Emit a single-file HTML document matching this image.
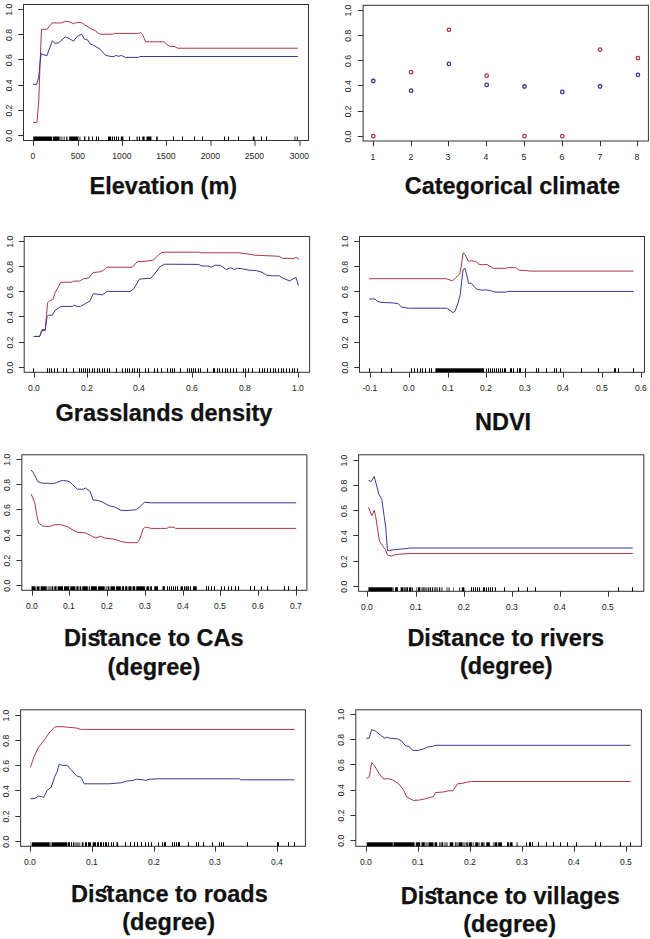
<!DOCTYPE html>
<html><head><meta charset="utf-8"><style>
html,body{margin:0;padding:0;background:#fff;}
svg{display:block;font-family:"Liberation Sans",sans-serif;}
</style></head><body>
<svg width="650" height="939" viewBox="0 0 650 939">
<rect width="650" height="939" fill="#fff"/>
<rect x="23.5" y="4.5" width="285.0" height="136.0" fill="none" stroke="#333" stroke-width="1"/>
<line x1="23.50" y1="135.50" x2="18.20" y2="135.50" stroke="#333" stroke-width="1"/>
<text x="0" y="0" transform="translate(11.80,135.80) rotate(-90)" font-size="8.6" text-anchor="middle" fill="#222">0.0</text>
<line x1="23.50" y1="110.50" x2="18.20" y2="110.50" stroke="#333" stroke-width="1"/>
<text x="0" y="0" transform="translate(11.80,110.60) rotate(-90)" font-size="8.6" text-anchor="middle" fill="#222">0.2</text>
<line x1="23.50" y1="85.50" x2="18.20" y2="85.50" stroke="#333" stroke-width="1"/>
<text x="0" y="0" transform="translate(11.80,85.40) rotate(-90)" font-size="8.6" text-anchor="middle" fill="#222">0.4</text>
<line x1="23.50" y1="59.50" x2="18.20" y2="59.50" stroke="#333" stroke-width="1"/>
<text x="0" y="0" transform="translate(11.80,60.20) rotate(-90)" font-size="8.6" text-anchor="middle" fill="#222">0.6</text>
<line x1="23.50" y1="34.50" x2="18.20" y2="34.50" stroke="#333" stroke-width="1"/>
<text x="0" y="0" transform="translate(11.80,35.00) rotate(-90)" font-size="8.6" text-anchor="middle" fill="#222">0.8</text>
<line x1="23.50" y1="9.50" x2="18.20" y2="9.50" stroke="#333" stroke-width="1"/>
<text x="0" y="0" transform="translate(11.80,9.80) rotate(-90)" font-size="8.6" text-anchor="middle" fill="#222">1.0</text>
<line x1="33.50" y1="140.50" x2="33.50" y2="145.80" stroke="#333" stroke-width="1"/>
<text x="32.90" y="159.10" font-size="8.6" text-anchor="middle" font-weight="normal" fill="#222">0</text>
<line x1="78.50" y1="140.50" x2="78.50" y2="145.80" stroke="#333" stroke-width="1"/>
<text x="77.90" y="159.10" font-size="8.6" text-anchor="middle" font-weight="normal" fill="#222">500</text>
<line x1="122.50" y1="140.50" x2="122.50" y2="145.80" stroke="#333" stroke-width="1"/>
<text x="121.90" y="159.10" font-size="8.6" text-anchor="middle" font-weight="normal" fill="#222">1000</text>
<line x1="166.50" y1="140.50" x2="166.50" y2="145.80" stroke="#333" stroke-width="1"/>
<text x="165.90" y="159.10" font-size="8.6" text-anchor="middle" font-weight="normal" fill="#222">1500</text>
<line x1="211.00" y1="140.50" x2="211.00" y2="145.80" stroke="#333" stroke-width="1"/>
<text x="210.40" y="159.10" font-size="8.6" text-anchor="middle" font-weight="normal" fill="#222">2000</text>
<line x1="255.00" y1="140.50" x2="255.00" y2="145.80" stroke="#333" stroke-width="1"/>
<text x="254.40" y="159.10" font-size="8.6" text-anchor="middle" font-weight="normal" fill="#222">2500</text>
<line x1="300.00" y1="140.50" x2="300.00" y2="145.80" stroke="#333" stroke-width="1"/>
<text x="299.40" y="159.10" font-size="8.6" text-anchor="middle" font-weight="normal" fill="#222">3000</text>
<rect x="33.20" y="136.50" width="19.00" height="4" fill="#000" fill-opacity="1"/>
<rect x="53.10" y="136.50" width="6.40" height="4" fill="#000" fill-opacity="1"/>
<rect x="59.50" y="136.50" width="3.30" height="4" fill="#000" fill-opacity="0.45"/>
<rect x="63.70" y="136.50" width="0.90" height="4" fill="#000" fill-opacity="1"/>
<rect x="66.20" y="136.50" width="1.20" height="4" fill="#000" fill-opacity="1"/>
<rect x="69.20" y="136.50" width="8.80" height="4" fill="#000" fill-opacity="1"/>
<rect x="78.00" y="136.50" width="2.80" height="4" fill="#000" fill-opacity="0.45"/>
<rect x="84.00" y="136.50" width="1.40" height="4" fill="#000" fill-opacity="1"/>
<rect x="88.20" y="136.50" width="1.30" height="4" fill="#000" fill-opacity="1"/>
<rect x="92" y="136.50" width="1" height="4" fill="#000"/>
<rect x="96" y="136.50" width="1" height="4" fill="#000"/>
<rect x="98" y="136.50" width="1" height="4" fill="#000"/>
<rect x="108.00" y="136.50" width="3.20" height="4" fill="#000" fill-opacity="1"/>
<rect x="112" y="136.50" width="1" height="4" fill="#000"/>
<rect x="114" y="136.50" width="1" height="4" fill="#000"/>
<rect x="116" y="136.50" width="1" height="4" fill="#000"/>
<rect x="118" y="136.50" width="1" height="4" fill="#000"/>
<rect x="120.80" y="136.50" width="2.60" height="4" fill="#000" fill-opacity="1"/>
<rect x="129" y="136.50" width="1" height="4" fill="#000"/>
<rect x="136.60" y="136.50" width="1.10" height="4" fill="#000" fill-opacity="1"/>
<rect x="139" y="136.50" width="1" height="4" fill="#000"/>
<rect x="142.30" y="136.50" width="2.30" height="4" fill="#000" fill-opacity="1"/>
<rect x="146.50" y="136.50" width="5.00" height="4" fill="#000" fill-opacity="1"/>
<rect x="156.20" y="136.50" width="1.50" height="4" fill="#000" fill-opacity="1"/>
<rect x="173" y="136.50" width="1" height="4" fill="#000"/>
<rect x="182" y="136.50" width="1" height="4" fill="#000"/>
<rect x="194" y="136.50" width="1" height="4" fill="#000"/>
<rect x="202" y="136.50" width="1" height="4" fill="#000"/>
<rect x="224" y="136.50" width="1" height="4" fill="#000"/>
<rect x="228" y="136.50" width="1" height="4" fill="#000"/>
<rect x="238" y="136.50" width="1" height="4" fill="#000"/>
<rect x="252.80" y="136.50" width="1.80" height="4" fill="#000" fill-opacity="1"/>
<rect x="261" y="136.50" width="1" height="4" fill="#000"/>
<rect x="266" y="136.50" width="1" height="4" fill="#000"/>
<rect x="294.60" y="136.50" width="0.80" height="4" fill="#000" fill-opacity="1"/>
<rect x="296.80" y="136.50" width="0.90" height="4" fill="#000" fill-opacity="1"/>
<polyline points="33.1,122.4 37.0,122.4 38.8,100.0 40.2,60.0 41.5,29.3 46.9,29.3 52.3,22.8 60.8,23.0 65.4,21.2 69.2,21.8 73.5,23.8 76.2,22.6 81.5,22.6 84.6,24.9 90.8,28.5 95.4,30.8 98.5,33.5 100.5,34.2 112.3,34.2 114.6,33.4 138.5,33.4 140.8,32.6 142.6,34.6 145.7,41.8 163.8,41.8 169.2,46.2 174.6,46.6 177.7,48.2 297.8,48.2" fill="none" stroke="#aa3840" stroke-width="1" stroke-linejoin="round"/>
<polyline points="33.1,84.3 36.6,84.3 38.8,76.9 40.0,63.0 41.2,53.5 43.0,54.6 46.9,55.7 52.3,40.8 55.1,43.4 58.5,42.8 65.4,36.9 69.2,38.5 73.5,41.2 76.9,36.6 81.5,34.2 84.6,39.2 87.7,40.0 90.0,43.8 93.8,45.4 100.0,49.2 105.4,55.1 109.2,56.2 113.8,56.6 116.2,55.4 118.5,56.4 121.5,55.4 125.4,57.4 138.5,57.4 140.0,56.5 297.8,56.5" fill="none" stroke="#383892" stroke-width="1" stroke-linejoin="round"/>
<text x="89.60" y="194.20" font-size="23.5" font-weight="bold" fill="#111" stroke="#111" stroke-width="0.25">Elevation (m)</text>
<rect x="363.1" y="5.3" width="285.29999999999995" height="135.7" fill="none" stroke="#333" stroke-width="1"/>
<line x1="363.10" y1="136.50" x2="357.80" y2="136.50" stroke="#333" stroke-width="1"/>
<text x="0" y="0" transform="translate(351.40,136.60) rotate(-90)" font-size="8.6" text-anchor="middle" fill="#222">0.0</text>
<line x1="363.10" y1="111.50" x2="357.80" y2="111.50" stroke="#333" stroke-width="1"/>
<text x="0" y="0" transform="translate(351.40,111.40) rotate(-90)" font-size="8.6" text-anchor="middle" fill="#222">0.2</text>
<line x1="363.10" y1="85.50" x2="357.80" y2="85.50" stroke="#333" stroke-width="1"/>
<text x="0" y="0" transform="translate(351.40,86.20) rotate(-90)" font-size="8.6" text-anchor="middle" fill="#222">0.4</text>
<line x1="363.10" y1="60.50" x2="357.80" y2="60.50" stroke="#333" stroke-width="1"/>
<text x="0" y="0" transform="translate(351.40,61.00) rotate(-90)" font-size="8.6" text-anchor="middle" fill="#222">0.6</text>
<line x1="363.10" y1="35.50" x2="357.80" y2="35.50" stroke="#333" stroke-width="1"/>
<text x="0" y="0" transform="translate(351.40,35.80) rotate(-90)" font-size="8.6" text-anchor="middle" fill="#222">0.8</text>
<line x1="363.10" y1="10.50" x2="357.80" y2="10.50" stroke="#333" stroke-width="1"/>
<text x="0" y="0" transform="translate(351.40,10.60) rotate(-90)" font-size="8.6" text-anchor="middle" fill="#222">1.0</text>
<line x1="373.50" y1="141.00" x2="373.50" y2="146.30" stroke="#333" stroke-width="1"/>
<text x="372.90" y="159.60" font-size="8.6" text-anchor="middle" font-weight="normal" fill="#222">1</text>
<line x1="411.50" y1="141.00" x2="411.50" y2="146.30" stroke="#333" stroke-width="1"/>
<text x="410.90" y="159.60" font-size="8.6" text-anchor="middle" font-weight="normal" fill="#222">2</text>
<line x1="448.50" y1="141.00" x2="448.50" y2="146.30" stroke="#333" stroke-width="1"/>
<text x="447.90" y="159.60" font-size="8.6" text-anchor="middle" font-weight="normal" fill="#222">3</text>
<line x1="486.50" y1="141.00" x2="486.50" y2="146.30" stroke="#333" stroke-width="1"/>
<text x="485.90" y="159.60" font-size="8.6" text-anchor="middle" font-weight="normal" fill="#222">4</text>
<line x1="524.50" y1="141.00" x2="524.50" y2="146.30" stroke="#333" stroke-width="1"/>
<text x="523.90" y="159.60" font-size="8.6" text-anchor="middle" font-weight="normal" fill="#222">5</text>
<line x1="562.50" y1="141.00" x2="562.50" y2="146.30" stroke="#333" stroke-width="1"/>
<text x="561.90" y="159.60" font-size="8.6" text-anchor="middle" font-weight="normal" fill="#222">6</text>
<line x1="600.50" y1="141.00" x2="600.50" y2="146.30" stroke="#333" stroke-width="1"/>
<text x="599.90" y="159.60" font-size="8.6" text-anchor="middle" font-weight="normal" fill="#222">7</text>
<line x1="637.50" y1="141.00" x2="637.50" y2="146.30" stroke="#333" stroke-width="1"/>
<text x="636.90" y="159.60" font-size="8.6" text-anchor="middle" font-weight="normal" fill="#222">8</text>
<circle cx="373.30" cy="81.00" r="1.75" fill="none" stroke="#383892" stroke-width="1.3"/>
<circle cx="373.30" cy="136.20" r="1.75" fill="none" stroke="#aa3840" stroke-width="1.3"/>
<circle cx="411.10" cy="72.20" r="1.75" fill="none" stroke="#aa3840" stroke-width="1.3"/>
<circle cx="411.10" cy="90.70" r="1.75" fill="none" stroke="#383892" stroke-width="1.3"/>
<circle cx="448.90" cy="29.80" r="1.75" fill="none" stroke="#aa3840" stroke-width="1.3"/>
<circle cx="448.90" cy="63.90" r="1.75" fill="none" stroke="#383892" stroke-width="1.3"/>
<circle cx="486.70" cy="75.70" r="1.75" fill="none" stroke="#aa3840" stroke-width="1.3"/>
<circle cx="486.70" cy="84.90" r="1.75" fill="none" stroke="#383892" stroke-width="1.3"/>
<circle cx="524.50" cy="86.50" r="1.75" fill="none" stroke="#383892" stroke-width="1.3"/>
<circle cx="524.50" cy="136.20" r="1.75" fill="none" stroke="#aa3840" stroke-width="1.3"/>
<circle cx="562.30" cy="91.90" r="1.75" fill="none" stroke="#383892" stroke-width="1.3"/>
<circle cx="562.30" cy="136.20" r="1.75" fill="none" stroke="#aa3840" stroke-width="1.3"/>
<circle cx="600.10" cy="49.60" r="1.75" fill="none" stroke="#aa3840" stroke-width="1.3"/>
<circle cx="600.10" cy="86.50" r="1.75" fill="none" stroke="#383892" stroke-width="1.3"/>
<circle cx="637.90" cy="58.20" r="1.75" fill="none" stroke="#aa3840" stroke-width="1.3"/>
<circle cx="637.90" cy="74.80" r="1.75" fill="none" stroke="#383892" stroke-width="1.3"/>
<text x="404.70" y="194.30" font-size="23.5" font-weight="bold" fill="#111" stroke="#111" stroke-width="0.25">Categorical climate</text>
<rect x="24.2" y="236.5" width="285.40000000000003" height="135.8" fill="none" stroke="#333" stroke-width="1"/>
<line x1="24.20" y1="367.50" x2="18.90" y2="367.50" stroke="#333" stroke-width="1"/>
<text x="0" y="0" transform="translate(12.50,367.60) rotate(-90)" font-size="8.6" text-anchor="middle" fill="#222">0.0</text>
<line x1="24.20" y1="342.50" x2="18.90" y2="342.50" stroke="#333" stroke-width="1"/>
<text x="0" y="0" transform="translate(12.50,342.42) rotate(-90)" font-size="8.6" text-anchor="middle" fill="#222">0.2</text>
<line x1="24.20" y1="316.50" x2="18.90" y2="316.50" stroke="#333" stroke-width="1"/>
<text x="0" y="0" transform="translate(12.50,317.24) rotate(-90)" font-size="8.6" text-anchor="middle" fill="#222">0.4</text>
<line x1="24.20" y1="291.50" x2="18.90" y2="291.50" stroke="#333" stroke-width="1"/>
<text x="0" y="0" transform="translate(12.50,292.06) rotate(-90)" font-size="8.6" text-anchor="middle" fill="#222">0.6</text>
<line x1="24.20" y1="266.50" x2="18.90" y2="266.50" stroke="#333" stroke-width="1"/>
<text x="0" y="0" transform="translate(12.50,266.88) rotate(-90)" font-size="8.6" text-anchor="middle" fill="#222">0.8</text>
<line x1="24.20" y1="241.50" x2="18.90" y2="241.50" stroke="#333" stroke-width="1"/>
<text x="0" y="0" transform="translate(12.50,241.70) rotate(-90)" font-size="8.6" text-anchor="middle" fill="#222">1.0</text>
<line x1="34.50" y1="372.30" x2="34.50" y2="377.60" stroke="#333" stroke-width="1"/>
<text x="33.90" y="390.90" font-size="8.6" text-anchor="middle" font-weight="normal" fill="#222">0.0</text>
<line x1="87.50" y1="372.30" x2="87.50" y2="377.60" stroke="#333" stroke-width="1"/>
<text x="86.90" y="390.90" font-size="8.6" text-anchor="middle" font-weight="normal" fill="#222">0.2</text>
<line x1="139.50" y1="372.30" x2="139.50" y2="377.60" stroke="#333" stroke-width="1"/>
<text x="138.90" y="390.90" font-size="8.6" text-anchor="middle" font-weight="normal" fill="#222">0.4</text>
<line x1="192.50" y1="372.30" x2="192.50" y2="377.60" stroke="#333" stroke-width="1"/>
<text x="191.90" y="390.90" font-size="8.6" text-anchor="middle" font-weight="normal" fill="#222">0.6</text>
<line x1="245.50" y1="372.30" x2="245.50" y2="377.60" stroke="#333" stroke-width="1"/>
<text x="244.90" y="390.90" font-size="8.6" text-anchor="middle" font-weight="normal" fill="#222">0.8</text>
<line x1="298.50" y1="372.30" x2="298.50" y2="377.60" stroke="#333" stroke-width="1"/>
<text x="297.90" y="390.90" font-size="8.6" text-anchor="middle" font-weight="normal" fill="#222">1.0</text>
<rect x="33" y="368.30" width="1" height="4" fill="#000"/>
<rect x="47" y="368.30" width="1" height="4" fill="#000"/>
<rect x="49" y="368.30" width="1" height="4" fill="#000"/>
<rect x="51" y="368.30" width="1" height="4" fill="#000"/>
<rect x="54" y="368.30" width="1" height="4" fill="#000"/>
<rect x="57" y="368.30" width="1" height="4" fill="#000"/>
<rect x="63" y="368.30" width="1" height="4" fill="#000"/>
<rect x="66" y="368.30" width="1" height="4" fill="#000"/>
<rect x="73" y="368.30" width="1" height="4" fill="#000"/>
<rect x="79" y="368.30" width="1" height="4" fill="#000"/>
<rect x="81" y="368.30" width="1" height="4" fill="#000"/>
<rect x="83" y="368.30" width="1" height="4" fill="#000"/>
<rect x="85" y="368.30" width="1" height="4" fill="#000"/>
<rect x="87" y="368.30" width="1" height="4" fill="#000"/>
<rect x="89" y="368.30" width="1" height="4" fill="#000"/>
<rect x="92" y="368.30" width="1" height="4" fill="#000"/>
<rect x="94" y="368.30" width="1" height="4" fill="#000"/>
<rect x="97" y="368.30" width="1" height="4" fill="#000"/>
<rect x="99" y="368.30" width="1" height="4" fill="#000"/>
<rect x="102" y="368.30" width="1" height="4" fill="#000"/>
<rect x="104" y="368.30" width="1" height="4" fill="#000"/>
<rect x="107" y="368.30" width="1" height="4" fill="#000"/>
<rect x="109" y="368.30" width="1" height="4" fill="#000"/>
<rect x="116" y="368.30" width="1" height="4" fill="#000"/>
<rect x="122" y="368.30" width="1" height="4" fill="#000"/>
<rect x="125" y="368.30" width="1" height="4" fill="#000"/>
<rect x="127" y="368.30" width="1" height="4" fill="#000"/>
<rect x="129" y="368.30" width="1" height="4" fill="#000"/>
<rect x="132" y="368.30" width="1" height="4" fill="#000"/>
<rect x="134" y="368.30" width="1" height="4" fill="#000"/>
<rect x="137" y="368.30" width="1" height="4" fill="#000"/>
<rect x="139" y="368.30" width="1" height="4" fill="#000"/>
<rect x="145" y="368.30" width="1" height="4" fill="#000"/>
<rect x="148" y="368.30" width="1" height="4" fill="#000"/>
<rect x="154" y="368.30" width="1" height="4" fill="#000"/>
<rect x="157" y="368.30" width="1" height="4" fill="#000"/>
<rect x="161" y="368.30" width="1" height="4" fill="#000"/>
<rect x="167" y="368.30" width="1" height="4" fill="#000"/>
<rect x="170" y="368.30" width="1" height="4" fill="#000"/>
<rect x="172" y="368.30" width="1" height="4" fill="#000"/>
<rect x="174" y="368.30" width="1" height="4" fill="#000"/>
<rect x="180" y="368.30" width="1" height="4" fill="#000"/>
<rect x="187" y="368.30" width="1" height="4" fill="#000"/>
<rect x="189" y="368.30" width="1" height="4" fill="#000"/>
<rect x="191" y="368.30" width="1" height="4" fill="#000"/>
<rect x="193" y="368.30" width="1" height="4" fill="#000"/>
<rect x="195" y="368.30" width="1" height="4" fill="#000"/>
<rect x="198" y="368.30" width="1" height="4" fill="#000"/>
<rect x="200" y="368.30" width="1" height="4" fill="#000"/>
<rect x="207" y="368.30" width="1" height="4" fill="#000"/>
<rect x="213" y="368.30" width="1" height="4" fill="#000"/>
<rect x="214" y="368.30" width="1" height="4" fill="#000"/>
<rect x="217" y="368.30" width="1" height="4" fill="#000"/>
<rect x="219" y="368.30" width="1" height="4" fill="#000"/>
<rect x="222" y="368.30" width="1" height="4" fill="#000"/>
<rect x="225" y="368.30" width="1" height="4" fill="#000"/>
<rect x="227" y="368.30" width="1" height="4" fill="#000"/>
<rect x="230" y="368.30" width="1" height="4" fill="#000"/>
<rect x="233" y="368.30" width="1" height="4" fill="#000"/>
<rect x="236" y="368.30" width="1" height="4" fill="#000"/>
<rect x="243" y="368.30" width="1" height="4" fill="#000"/>
<rect x="245" y="368.30" width="1" height="4" fill="#000"/>
<rect x="248" y="368.30" width="1" height="4" fill="#000"/>
<rect x="252" y="368.30" width="1" height="4" fill="#000"/>
<rect x="259" y="368.30" width="1" height="4" fill="#000"/>
<rect x="262" y="368.30" width="1" height="4" fill="#000"/>
<rect x="264" y="368.30" width="1" height="4" fill="#000"/>
<rect x="267" y="368.30" width="1" height="4" fill="#000"/>
<rect x="270" y="368.30" width="1" height="4" fill="#000"/>
<rect x="273" y="368.30" width="1" height="4" fill="#000"/>
<rect x="275" y="368.30" width="1" height="4" fill="#000"/>
<rect x="278" y="368.30" width="1" height="4" fill="#000"/>
<rect x="281" y="368.30" width="1" height="4" fill="#000"/>
<rect x="283" y="368.30" width="1" height="4" fill="#000"/>
<rect x="286" y="368.30" width="1" height="4" fill="#000"/>
<rect x="289" y="368.30" width="1" height="4" fill="#000"/>
<rect x="292" y="368.30" width="1" height="4" fill="#000"/>
<rect x="294" y="368.30" width="1" height="4" fill="#000"/>
<rect x="297" y="368.30" width="1" height="4" fill="#000"/>
<polyline points="33.7,336.4 39.7,336.4 42.0,329.5 45.2,329.5 46.6,314.5 47.5,302.9 49.8,300.6 52.8,299.5 55.2,292.5 60.9,282.2 71.3,282.2 73.6,281.2 79.4,281.0 83.5,278.7 88.6,278.0 93.2,272.5 100.2,271.8 103.6,270.2 106.6,267.2 132.5,267.2 137.1,261.8 144.0,261.4 153.2,260.2 156.7,256.8 161.3,252.6 165.0,252.2 199.6,252.2 201.9,252.8 238.8,252.8 248.1,254.0 255.0,255.2 264.2,255.6 279.2,256.3 282.7,258.4 294.2,258.4 296.1,257.5 298.9,259.1" fill="none" stroke="#aa3840" stroke-width="1" stroke-linejoin="round"/>
<polyline points="33.7,336.4 39.7,336.4 42.0,330.6 45.2,330.6 47.1,316.3 48.2,315.2 52.2,315.2 55.2,310.3 60.9,306.4 72.5,306.4 74.3,305.2 77.1,306.4 80.5,306.4 86.3,302.9 89.8,301.3 93.2,293.7 102.5,294.8 107.1,291.4 130.2,291.4 133.6,289.1 139.4,279.2 144.0,278.7 150.9,278.2 154.4,274.1 160.2,266.5 164.8,264.2 198.5,264.4 201.9,266.0 207.7,266.0 211.2,267.2 214.6,265.3 220.4,265.3 226.2,269.5 230.8,267.8 234.2,269.5 237.7,268.3 242.3,268.8 249.2,270.2 256.2,270.6 261.9,272.2 266.5,275.2 273.5,275.9 279.2,275.7 282.7,278.0 289.6,281.0 293.1,278.7 296.1,277.5 298.4,285.6" fill="none" stroke="#383892" stroke-width="1" stroke-linejoin="round"/>
<text x="55.60" y="420.60" font-size="23.5" font-weight="bold" fill="#111" stroke="#111" stroke-width="0.25">Grasslands density</text>
<rect x="359.5" y="236.5" width="285.0" height="135.8" fill="none" stroke="#333" stroke-width="1"/>
<line x1="359.50" y1="367.50" x2="354.20" y2="367.50" stroke="#333" stroke-width="1"/>
<text x="0" y="0" transform="translate(347.80,367.60) rotate(-90)" font-size="8.6" text-anchor="middle" fill="#222">0.0</text>
<line x1="359.50" y1="342.50" x2="354.20" y2="342.50" stroke="#333" stroke-width="1"/>
<text x="0" y="0" transform="translate(347.80,342.42) rotate(-90)" font-size="8.6" text-anchor="middle" fill="#222">0.2</text>
<line x1="359.50" y1="316.50" x2="354.20" y2="316.50" stroke="#333" stroke-width="1"/>
<text x="0" y="0" transform="translate(347.80,317.24) rotate(-90)" font-size="8.6" text-anchor="middle" fill="#222">0.4</text>
<line x1="359.50" y1="291.50" x2="354.20" y2="291.50" stroke="#333" stroke-width="1"/>
<text x="0" y="0" transform="translate(347.80,292.06) rotate(-90)" font-size="8.6" text-anchor="middle" fill="#222">0.6</text>
<line x1="359.50" y1="266.50" x2="354.20" y2="266.50" stroke="#333" stroke-width="1"/>
<text x="0" y="0" transform="translate(347.80,266.88) rotate(-90)" font-size="8.6" text-anchor="middle" fill="#222">0.8</text>
<line x1="359.50" y1="241.50" x2="354.20" y2="241.50" stroke="#333" stroke-width="1"/>
<text x="0" y="0" transform="translate(347.80,241.70) rotate(-90)" font-size="8.6" text-anchor="middle" fill="#222">1.0</text>
<line x1="370.50" y1="372.30" x2="370.50" y2="377.60" stroke="#333" stroke-width="1"/>
<text x="369.90" y="390.90" font-size="8.6" text-anchor="middle" font-weight="normal" fill="#222">-0.1</text>
<line x1="409.50" y1="372.30" x2="409.50" y2="377.60" stroke="#333" stroke-width="1"/>
<text x="408.90" y="390.90" font-size="8.6" text-anchor="middle" font-weight="normal" fill="#222">0.0</text>
<line x1="448.50" y1="372.30" x2="448.50" y2="377.60" stroke="#333" stroke-width="1"/>
<text x="447.90" y="390.90" font-size="8.6" text-anchor="middle" font-weight="normal" fill="#222">0.1</text>
<line x1="486.50" y1="372.30" x2="486.50" y2="377.60" stroke="#333" stroke-width="1"/>
<text x="485.90" y="390.90" font-size="8.6" text-anchor="middle" font-weight="normal" fill="#222">0.2</text>
<line x1="525.50" y1="372.30" x2="525.50" y2="377.60" stroke="#333" stroke-width="1"/>
<text x="524.90" y="390.90" font-size="8.6" text-anchor="middle" font-weight="normal" fill="#222">0.3</text>
<line x1="563.50" y1="372.30" x2="563.50" y2="377.60" stroke="#333" stroke-width="1"/>
<text x="562.90" y="390.90" font-size="8.6" text-anchor="middle" font-weight="normal" fill="#222">0.4</text>
<line x1="602.50" y1="372.30" x2="602.50" y2="377.60" stroke="#333" stroke-width="1"/>
<text x="601.90" y="390.90" font-size="8.6" text-anchor="middle" font-weight="normal" fill="#222">0.5</text>
<line x1="641.50" y1="372.30" x2="641.50" y2="377.60" stroke="#333" stroke-width="1"/>
<text x="640.90" y="390.90" font-size="8.6" text-anchor="middle" font-weight="normal" fill="#222">0.6</text>
<rect x="369" y="368.30" width="1" height="4" fill="#000"/>
<rect x="381" y="368.30" width="1" height="4" fill="#000"/>
<rect x="391" y="368.30" width="1" height="4" fill="#000"/>
<rect x="411" y="368.30" width="1" height="4" fill="#000"/>
<rect x="414" y="368.30" width="1" height="4" fill="#000"/>
<rect x="417" y="368.30" width="1" height="4" fill="#000"/>
<rect x="420" y="368.30" width="1" height="4" fill="#000"/>
<rect x="422" y="368.30" width="1" height="4" fill="#000"/>
<rect x="425" y="368.30" width="1" height="4" fill="#000"/>
<rect x="429" y="368.30" width="1" height="4" fill="#000"/>
<rect x="431" y="368.30" width="1" height="4" fill="#000"/>
<rect x="435.40" y="368.30" width="48.60" height="4" fill="#000" fill-opacity="1"/>
<rect x="486" y="368.30" width="1" height="4" fill="#000"/>
<rect x="488" y="368.30" width="1" height="4" fill="#000"/>
<rect x="490" y="368.30" width="1" height="4" fill="#000"/>
<rect x="492" y="368.30" width="1" height="4" fill="#000"/>
<rect x="494" y="368.30" width="1" height="4" fill="#000"/>
<rect x="496" y="368.30" width="1" height="4" fill="#000"/>
<rect x="498" y="368.30" width="1" height="4" fill="#000"/>
<rect x="500" y="368.30" width="1" height="4" fill="#000"/>
<rect x="502" y="368.30" width="1" height="4" fill="#000"/>
<rect x="504" y="368.30" width="1" height="4" fill="#000"/>
<rect x="505" y="368.30" width="1" height="4" fill="#000"/>
<rect x="510" y="368.30" width="1" height="4" fill="#000"/>
<rect x="511" y="368.30" width="1" height="4" fill="#000"/>
<rect x="513" y="368.30" width="1" height="4" fill="#000"/>
<rect x="517" y="368.30" width="1" height="4" fill="#000"/>
<rect x="519" y="368.30" width="1" height="4" fill="#000"/>
<rect x="520" y="368.30" width="1" height="4" fill="#000"/>
<rect x="525" y="368.30" width="1" height="4" fill="#000"/>
<rect x="536" y="368.30" width="1" height="4" fill="#000"/>
<rect x="538" y="368.30" width="1" height="4" fill="#000"/>
<rect x="546" y="368.30" width="1" height="4" fill="#000"/>
<rect x="554" y="368.30" width="1" height="4" fill="#000"/>
<rect x="556" y="368.30" width="1" height="4" fill="#000"/>
<rect x="560" y="368.30" width="1" height="4" fill="#000"/>
<rect x="581" y="368.30" width="1" height="4" fill="#000"/>
<rect x="598" y="368.30" width="1" height="4" fill="#000"/>
<rect x="614" y="368.30" width="1" height="4" fill="#000"/>
<rect x="615" y="368.30" width="1" height="4" fill="#000"/>
<rect x="618" y="368.30" width="1" height="4" fill="#000"/>
<rect x="633" y="368.30" width="1" height="4" fill="#000"/>
<polyline points="369.2,278.7 446.5,278.7 452.3,281.0 455.8,277.5 459.7,274.1 460.9,268.3 463.2,252.8 465.0,254.5 468.5,261.4 470.8,260.7 475.4,261.4 478.8,264.2 482.3,264.8 486.9,264.4 493.4,268.3 505.4,268.3 507.7,267.6 515.8,267.6 519.2,270.2 527.3,270.6 529.6,271.1 633.5,271.1" fill="none" stroke="#aa3840" stroke-width="1" stroke-linejoin="round"/>
<polyline points="369.2,299.0 375.0,299.0 378.0,301.8 383.1,302.5 392.3,302.9 398.1,303.6 401.5,307.1 408.5,308.2 446.5,308.2 450.0,310.3 452.8,312.8 455.1,311.0 458.1,302.9 460.4,293.7 461.5,282.2 463.2,269.5 465.0,268.3 466.6,274.1 468.5,283.3 471.2,283.3 476.5,289.1 481.2,290.2 485.8,289.8 491.5,290.9 495.0,292.1 506.5,292.1 507.7,291.4 633.5,291.4" fill="none" stroke="#383892" stroke-width="1" stroke-linejoin="round"/>
<text x="475.00" y="430.00" font-size="23.5" font-weight="bold" fill="#111" stroke="#111" stroke-width="0.25">NDVI</text>
<rect x="21.8" y="454.8" width="285.09999999999997" height="135.49999999999994" fill="none" stroke="#333" stroke-width="1"/>
<line x1="21.80" y1="585.50" x2="16.50" y2="585.50" stroke="#333" stroke-width="1"/>
<text x="0" y="0" transform="translate(10.10,585.80) rotate(-90)" font-size="8.6" text-anchor="middle" fill="#222">0.0</text>
<line x1="21.80" y1="560.50" x2="16.50" y2="560.50" stroke="#333" stroke-width="1"/>
<text x="0" y="0" transform="translate(10.10,560.58) rotate(-90)" font-size="8.6" text-anchor="middle" fill="#222">0.2</text>
<line x1="21.80" y1="535.50" x2="16.50" y2="535.50" stroke="#333" stroke-width="1"/>
<text x="0" y="0" transform="translate(10.10,535.36) rotate(-90)" font-size="8.6" text-anchor="middle" fill="#222">0.4</text>
<line x1="21.80" y1="509.50" x2="16.50" y2="509.50" stroke="#333" stroke-width="1"/>
<text x="0" y="0" transform="translate(10.10,510.14) rotate(-90)" font-size="8.6" text-anchor="middle" fill="#222">0.6</text>
<line x1="21.80" y1="484.50" x2="16.50" y2="484.50" stroke="#333" stroke-width="1"/>
<text x="0" y="0" transform="translate(10.10,484.92) rotate(-90)" font-size="8.6" text-anchor="middle" fill="#222">0.8</text>
<line x1="21.80" y1="459.50" x2="16.50" y2="459.50" stroke="#333" stroke-width="1"/>
<text x="0" y="0" transform="translate(10.10,459.70) rotate(-90)" font-size="8.6" text-anchor="middle" fill="#222">1.0</text>
<line x1="32.50" y1="590.30" x2="32.50" y2="595.60" stroke="#333" stroke-width="1"/>
<text x="31.90" y="608.90" font-size="8.6" text-anchor="middle" font-weight="normal" fill="#222">0.0</text>
<line x1="69.50" y1="590.30" x2="69.50" y2="595.60" stroke="#333" stroke-width="1"/>
<text x="68.90" y="608.90" font-size="8.6" text-anchor="middle" font-weight="normal" fill="#222">0.1</text>
<line x1="107.50" y1="590.30" x2="107.50" y2="595.60" stroke="#333" stroke-width="1"/>
<text x="106.90" y="608.90" font-size="8.6" text-anchor="middle" font-weight="normal" fill="#222">0.2</text>
<line x1="145.50" y1="590.30" x2="145.50" y2="595.60" stroke="#333" stroke-width="1"/>
<text x="144.90" y="608.90" font-size="8.6" text-anchor="middle" font-weight="normal" fill="#222">0.3</text>
<line x1="183.50" y1="590.30" x2="183.50" y2="595.60" stroke="#333" stroke-width="1"/>
<text x="182.90" y="608.90" font-size="8.6" text-anchor="middle" font-weight="normal" fill="#222">0.4</text>
<line x1="220.50" y1="590.30" x2="220.50" y2="595.60" stroke="#333" stroke-width="1"/>
<text x="219.90" y="608.90" font-size="8.6" text-anchor="middle" font-weight="normal" fill="#222">0.5</text>
<line x1="258.50" y1="590.30" x2="258.50" y2="595.60" stroke="#333" stroke-width="1"/>
<text x="257.90" y="608.90" font-size="8.6" text-anchor="middle" font-weight="normal" fill="#222">0.6</text>
<line x1="296.50" y1="590.30" x2="296.50" y2="595.60" stroke="#333" stroke-width="1"/>
<text x="295.90" y="608.90" font-size="8.6" text-anchor="middle" font-weight="normal" fill="#222">0.7</text>
<rect x="31.50" y="586.30" width="4.10" height="4" fill="#000" fill-opacity="1"/>
<rect x="36.60" y="586.30" width="3.00" height="4" fill="#000" fill-opacity="1"/>
<rect x="40.60" y="586.30" width="6.10" height="4" fill="#000" fill-opacity="1"/>
<rect x="47.70" y="586.30" width="0.80" height="4" fill="#000" fill-opacity="1"/>
<rect x="49.50" y="586.30" width="1.10" height="4" fill="#000" fill-opacity="1"/>
<rect x="51.60" y="586.30" width="1.70" height="4" fill="#000" fill-opacity="1"/>
<rect x="54.30" y="586.30" width="2.30" height="4" fill="#000" fill-opacity="1"/>
<rect x="57.60" y="586.30" width="5.40" height="4" fill="#000" fill-opacity="1"/>
<rect x="64.00" y="586.30" width="5.30" height="4" fill="#000" fill-opacity="1"/>
<rect x="70.30" y="586.30" width="5.10" height="4" fill="#000" fill-opacity="1"/>
<rect x="76.40" y="586.30" width="2.20" height="4" fill="#000" fill-opacity="1"/>
<rect x="79.60" y="586.30" width="1.70" height="4" fill="#000" fill-opacity="1"/>
<rect x="82.30" y="586.30" width="5.50" height="4" fill="#000" fill-opacity="1"/>
<rect x="88.80" y="586.30" width="1.10" height="4" fill="#000" fill-opacity="1"/>
<rect x="90.90" y="586.30" width="6.00" height="4" fill="#000" fill-opacity="1"/>
<rect x="97.90" y="586.30" width="6.80" height="4" fill="#000" fill-opacity="1"/>
<rect x="105.70" y="586.30" width="0.90" height="4" fill="#000" fill-opacity="1"/>
<rect x="107.60" y="586.30" width="1.80" height="4" fill="#000" fill-opacity="1"/>
<rect x="110.40" y="586.30" width="4.60" height="4" fill="#000" fill-opacity="1"/>
<rect x="116.00" y="586.30" width="4.90" height="4" fill="#000" fill-opacity="1"/>
<rect x="121.90" y="586.30" width="2.20" height="4" fill="#000" fill-opacity="1"/>
<rect x="125.10" y="586.30" width="2.30" height="4" fill="#000" fill-opacity="1"/>
<rect x="128.40" y="586.30" width="3.10" height="4" fill="#000" fill-opacity="1"/>
<rect x="132.50" y="586.30" width="2.70" height="4" fill="#000" fill-opacity="1"/>
<rect x="136.20" y="586.30" width="8.70" height="4" fill="#000" fill-opacity="1"/>
<rect x="145.90" y="586.30" width="0.50" height="4" fill="#000" fill-opacity="1"/>
<rect x="146.70" y="586.30" width="2.40" height="4" fill="#000" fill-opacity="1"/>
<rect x="150.10" y="586.30" width="1.80" height="4" fill="#000" fill-opacity="1"/>
<rect x="154.20" y="586.30" width="2.80" height="4" fill="#000" fill-opacity="1"/>
<rect x="157" y="586.30" width="1" height="4" fill="#000"/>
<rect x="162.50" y="586.30" width="2.40" height="4" fill="#000" fill-opacity="1"/>
<rect x="167" y="586.30" width="1" height="4" fill="#000"/>
<rect x="169" y="586.30" width="1" height="4" fill="#000"/>
<rect x="171" y="586.30" width="1" height="4" fill="#000"/>
<rect x="173" y="586.30" width="1" height="4" fill="#000"/>
<rect x="175" y="586.30" width="1" height="4" fill="#000"/>
<rect x="177" y="586.30" width="1" height="4" fill="#000"/>
<rect x="180.50" y="586.30" width="2.40" height="4" fill="#000" fill-opacity="1"/>
<rect x="184" y="586.30" width="1" height="4" fill="#000"/>
<rect x="185.60" y="586.30" width="1.90" height="4" fill="#000" fill-opacity="1"/>
<rect x="188" y="586.30" width="1" height="4" fill="#000"/>
<rect x="190" y="586.30" width="1" height="4" fill="#000"/>
<rect x="193.00" y="586.30" width="3.70" height="4" fill="#000" fill-opacity="1"/>
<rect x="206" y="586.30" width="1" height="4" fill="#000"/>
<rect x="208" y="586.30" width="1" height="4" fill="#000"/>
<rect x="211" y="586.30" width="1" height="4" fill="#000"/>
<rect x="214" y="586.30" width="1" height="4" fill="#000"/>
<rect x="221" y="586.30" width="1" height="4" fill="#000"/>
<rect x="224" y="586.30" width="1" height="4" fill="#000"/>
<rect x="228" y="586.30" width="1" height="4" fill="#000"/>
<rect x="231" y="586.30" width="1" height="4" fill="#000"/>
<rect x="235" y="586.30" width="1" height="4" fill="#000"/>
<rect x="238" y="586.30" width="1" height="4" fill="#000"/>
<rect x="250" y="586.30" width="1" height="4" fill="#000"/>
<rect x="254" y="586.30" width="1" height="4" fill="#000"/>
<rect x="261" y="586.30" width="1" height="4" fill="#000"/>
<rect x="267" y="586.30" width="1" height="4" fill="#000"/>
<rect x="284" y="586.30" width="1" height="4" fill="#000"/>
<rect x="288" y="586.30" width="1" height="4" fill="#000"/>
<rect x="296" y="586.30" width="1" height="4" fill="#000"/>
<polyline points="31.2,470.0 33.5,473.0 37.7,481.5 41.6,483.2 48.5,483.2 51.5,483.8 56.6,482.7 60.1,481.1 63.5,480.4 69.3,481.5 72.8,485.0 77.4,489.2 83.2,489.2 85.5,488.0 90.1,491.5 93.1,500.0 98.2,500.5 102.8,502.3 109.2,505.8 114.3,506.9 121.2,510.4 128.2,510.4 136.2,509.7 139.7,506.9 144.3,502.3 151.2,502.8 296.2,502.8" fill="none" stroke="#383892" stroke-width="1" stroke-linejoin="round"/>
<polyline points="31.2,494.2 34.7,502.3 36.3,512.7 38.6,523.1 42.8,526.1 49.7,526.5 54.3,524.7 61.2,524.7 68.2,527.0 72.8,530.0 77.4,532.3 85.5,532.8 91.2,535.8 95.8,538.1 100.5,536.2 105.1,538.1 114.3,539.2 121.2,541.5 128.2,542.7 137.4,542.7 139.7,539.2 143.2,528.8 145.5,527.0 151.2,528.4 160.5,528.4 166.9,528.4 168.5,527.2 174.0,527.2 175.5,528.4 296.2,528.4" fill="none" stroke="#aa3840" stroke-width="1" stroke-linejoin="round"/>
<text x="63.90" y="646.10" font-size="23.5" font-weight="bold" fill="#111" stroke="#111" stroke-width="0.25">Dis<tspan dx="-1.0">t</tspan><tspan dx="0.5">ance to CAs</tspan></text>
<path d="M96.75,636.10 C97.15,632.30 97.95,630.60 99.95,630.60 S102.15,631.10 102.55,632.90" fill="none" stroke="#111" stroke-width="2.0" stroke-linecap="round"/>
<text x="107.50" y="674.50" font-size="23.5" font-weight="bold" fill="#111" stroke="#111" stroke-width="0.25">(degree)</text>
<rect x="358.6" y="454.8" width="285.19999999999993" height="136.49999999999994" fill="none" stroke="#333" stroke-width="1"/>
<line x1="358.60" y1="586.50" x2="353.30" y2="586.50" stroke="#333" stroke-width="1"/>
<text x="0" y="0" transform="translate(346.90,586.70) rotate(-90)" font-size="8.6" text-anchor="middle" fill="#222">0.0</text>
<line x1="358.60" y1="561.50" x2="353.30" y2="561.50" stroke="#333" stroke-width="1"/>
<text x="0" y="0" transform="translate(346.90,561.48) rotate(-90)" font-size="8.6" text-anchor="middle" fill="#222">0.2</text>
<line x1="358.60" y1="535.50" x2="353.30" y2="535.50" stroke="#333" stroke-width="1"/>
<text x="0" y="0" transform="translate(346.90,536.26) rotate(-90)" font-size="8.6" text-anchor="middle" fill="#222">0.4</text>
<line x1="358.60" y1="510.50" x2="353.30" y2="510.50" stroke="#333" stroke-width="1"/>
<text x="0" y="0" transform="translate(346.90,511.04) rotate(-90)" font-size="8.6" text-anchor="middle" fill="#222">0.6</text>
<line x1="358.60" y1="485.50" x2="353.30" y2="485.50" stroke="#333" stroke-width="1"/>
<text x="0" y="0" transform="translate(346.90,485.82) rotate(-90)" font-size="8.6" text-anchor="middle" fill="#222">0.8</text>
<line x1="358.60" y1="460.50" x2="353.30" y2="460.50" stroke="#333" stroke-width="1"/>
<text x="0" y="0" transform="translate(346.90,460.60) rotate(-90)" font-size="8.6" text-anchor="middle" fill="#222">1.0</text>
<line x1="367.50" y1="591.30" x2="367.50" y2="596.60" stroke="#333" stroke-width="1"/>
<text x="366.90" y="609.90" font-size="8.6" text-anchor="middle" font-weight="normal" fill="#222">0.0</text>
<line x1="416.50" y1="591.30" x2="416.50" y2="596.60" stroke="#333" stroke-width="1"/>
<text x="415.90" y="609.90" font-size="8.6" text-anchor="middle" font-weight="normal" fill="#222">0.1</text>
<line x1="464.50" y1="591.30" x2="464.50" y2="596.60" stroke="#333" stroke-width="1"/>
<text x="463.90" y="609.90" font-size="8.6" text-anchor="middle" font-weight="normal" fill="#222">0.2</text>
<line x1="512.50" y1="591.30" x2="512.50" y2="596.60" stroke="#333" stroke-width="1"/>
<text x="511.90" y="609.90" font-size="8.6" text-anchor="middle" font-weight="normal" fill="#222">0.3</text>
<line x1="560.50" y1="591.30" x2="560.50" y2="596.60" stroke="#333" stroke-width="1"/>
<text x="559.90" y="609.90" font-size="8.6" text-anchor="middle" font-weight="normal" fill="#222">0.4</text>
<line x1="608.50" y1="591.30" x2="608.50" y2="596.60" stroke="#333" stroke-width="1"/>
<text x="607.90" y="609.90" font-size="8.6" text-anchor="middle" font-weight="normal" fill="#222">0.5</text>
<rect x="368.40" y="587.30" width="24.10" height="4" fill="#000" fill-opacity="1"/>
<rect x="392.50" y="587.30" width="1.50" height="4" fill="#000" fill-opacity="0.5"/>
<rect x="395.00" y="587.30" width="2.90" height="4" fill="#000" fill-opacity="1"/>
<rect x="400.60" y="587.30" width="2.90" height="4" fill="#000" fill-opacity="1"/>
<rect x="404.30" y="587.30" width="1.40" height="4" fill="#000" fill-opacity="1"/>
<rect x="406.30" y="587.30" width="1.70" height="4" fill="#000" fill-opacity="1"/>
<rect x="409.00" y="587.30" width="2.10" height="4" fill="#000" fill-opacity="1"/>
<rect x="411.60" y="587.30" width="1.20" height="4" fill="#000" fill-opacity="1"/>
<rect x="415.80" y="587.30" width="1.20" height="4" fill="#000" fill-opacity="0.5"/>
<rect x="417.80" y="587.30" width="2.60" height="4" fill="#000" fill-opacity="1"/>
<rect x="421.60" y="587.30" width="1.00" height="4" fill="#000" fill-opacity="1"/>
<rect x="423.30" y="587.30" width="1.30" height="4" fill="#000" fill-opacity="1"/>
<rect x="425.50" y="587.30" width="1.10" height="4" fill="#000" fill-opacity="1"/>
<rect x="427.70" y="587.30" width="1.10" height="4" fill="#000" fill-opacity="1"/>
<rect x="429.70" y="587.30" width="1.30" height="4" fill="#000" fill-opacity="1"/>
<rect x="431.90" y="587.30" width="1.20" height="4" fill="#000" fill-opacity="1"/>
<rect x="434.40" y="587.30" width="1.20" height="4" fill="#000" fill-opacity="1"/>
<rect x="436.50" y="587.30" width="1.10" height="4" fill="#000" fill-opacity="1"/>
<rect x="439.00" y="587.30" width="1.20" height="4" fill="#000" fill-opacity="1"/>
<rect x="441.50" y="587.30" width="0.90" height="4" fill="#000" fill-opacity="1"/>
<rect x="446.60" y="587.30" width="0.80" height="4" fill="#000" fill-opacity="1"/>
<rect x="448.60" y="587.30" width="0.90" height="4" fill="#000" fill-opacity="1"/>
<rect x="453.00" y="587.30" width="1.00" height="4" fill="#000" fill-opacity="0.5"/>
<rect x="459.30" y="587.30" width="0.80" height="4" fill="#000" fill-opacity="1"/>
<rect x="461.80" y="587.30" width="2.60" height="4" fill="#000" fill-opacity="1"/>
<rect x="471" y="587.30" width="1" height="4" fill="#000"/>
<rect x="473" y="587.30" width="1" height="4" fill="#000"/>
<rect x="475" y="587.30" width="1" height="4" fill="#000"/>
<rect x="477" y="587.30" width="1" height="4" fill="#000"/>
<rect x="479" y="587.30" width="1" height="4" fill="#000"/>
<rect x="483" y="587.30" width="1" height="4" fill="#000"/>
<rect x="484" y="587.30" width="1" height="4" fill="#000"/>
<rect x="486" y="587.30" width="1" height="4" fill="#000"/>
<rect x="488" y="587.30" width="1" height="4" fill="#000"/>
<rect x="490" y="587.30" width="1" height="4" fill="#000"/>
<rect x="492" y="587.30" width="1" height="4" fill="#000"/>
<rect x="495" y="587.30" width="1" height="4" fill="#000"/>
<rect x="504" y="587.30" width="1" height="4" fill="#000"/>
<rect x="518" y="587.30" width="1" height="4" fill="#000"/>
<rect x="527" y="587.30" width="1" height="4" fill="#000"/>
<rect x="535" y="587.30" width="1" height="4" fill="#000"/>
<rect x="618" y="587.30" width="1" height="4" fill="#000"/>
<rect x="632" y="587.30" width="1" height="4" fill="#000"/>
<polyline points="368.5,480.4 371.1,481.5 374.2,476.5 376.5,485.0 378.8,494.2 381.8,499.6 384.2,516.5 385.7,527.3 387.5,550.4 389.5,550.7 394.2,549.6 404.2,548.8 410.3,548.0 632.8,548.0" fill="none" stroke="#383892" stroke-width="1" stroke-linejoin="round"/>
<polyline points="368.5,507.3 371.8,515.8 374.2,510.4 375.7,516.5 378.0,531.9 379.5,541.2 382.6,545.8 385.4,549.6 387.5,555.0 391.1,556.2 394.9,554.7 399.5,554.2 410.3,553.5 632.8,553.5" fill="none" stroke="#aa3840" stroke-width="1" stroke-linejoin="round"/>
<text x="407.40" y="646.20" font-size="23.5" font-weight="bold" fill="#111" stroke="#111" stroke-width="0.25">Dis<tspan dx="-1.0">t</tspan><tspan dx="0.5">ance to rivers</tspan></text>
<path d="M440.25,636.20 C440.65,632.40 441.45,630.70 443.45,630.70 S445.65,631.20 446.05,633.00" fill="none" stroke="#111" stroke-width="2.0" stroke-linecap="round"/>
<text x="459.90" y="673.70" font-size="23.5" font-weight="bold" fill="#111" stroke="#111" stroke-width="0.25">(degree)</text>
<rect x="20.6" y="709.8" width="284.79999999999995" height="136.5" fill="none" stroke="#333" stroke-width="1"/>
<line x1="20.60" y1="841.50" x2="15.30" y2="841.50" stroke="#333" stroke-width="1"/>
<text x="0" y="0" transform="translate(8.90,841.70) rotate(-90)" font-size="8.6" text-anchor="middle" fill="#222">0.0</text>
<line x1="20.60" y1="816.50" x2="15.30" y2="816.50" stroke="#333" stroke-width="1"/>
<text x="0" y="0" transform="translate(8.90,816.48) rotate(-90)" font-size="8.6" text-anchor="middle" fill="#222">0.2</text>
<line x1="20.60" y1="790.50" x2="15.30" y2="790.50" stroke="#333" stroke-width="1"/>
<text x="0" y="0" transform="translate(8.90,791.26) rotate(-90)" font-size="8.6" text-anchor="middle" fill="#222">0.4</text>
<line x1="20.60" y1="765.50" x2="15.30" y2="765.50" stroke="#333" stroke-width="1"/>
<text x="0" y="0" transform="translate(8.90,766.04) rotate(-90)" font-size="8.6" text-anchor="middle" fill="#222">0.6</text>
<line x1="20.60" y1="740.50" x2="15.30" y2="740.50" stroke="#333" stroke-width="1"/>
<text x="0" y="0" transform="translate(8.90,740.82) rotate(-90)" font-size="8.6" text-anchor="middle" fill="#222">0.8</text>
<line x1="20.60" y1="715.50" x2="15.30" y2="715.50" stroke="#333" stroke-width="1"/>
<text x="0" y="0" transform="translate(8.90,715.60) rotate(-90)" font-size="8.6" text-anchor="middle" fill="#222">1.0</text>
<line x1="30.50" y1="846.30" x2="30.50" y2="851.60" stroke="#333" stroke-width="1"/>
<text x="29.90" y="864.90" font-size="8.6" text-anchor="middle" font-weight="normal" fill="#222">0.0</text>
<line x1="92.50" y1="846.30" x2="92.50" y2="851.60" stroke="#333" stroke-width="1"/>
<text x="91.90" y="864.90" font-size="8.6" text-anchor="middle" font-weight="normal" fill="#222">0.1</text>
<line x1="154.50" y1="846.30" x2="154.50" y2="851.60" stroke="#333" stroke-width="1"/>
<text x="153.90" y="864.90" font-size="8.6" text-anchor="middle" font-weight="normal" fill="#222">0.2</text>
<line x1="215.50" y1="846.30" x2="215.50" y2="851.60" stroke="#333" stroke-width="1"/>
<text x="214.90" y="864.90" font-size="8.6" text-anchor="middle" font-weight="normal" fill="#222">0.3</text>
<line x1="277.50" y1="846.30" x2="277.50" y2="851.60" stroke="#333" stroke-width="1"/>
<text x="276.90" y="864.90" font-size="8.6" text-anchor="middle" font-weight="normal" fill="#222">0.4</text>
<rect x="30.40" y="842.30" width="1.00" height="4" fill="#000" fill-opacity="0.5"/>
<rect x="31.90" y="842.30" width="17.70" height="4" fill="#000" fill-opacity="1"/>
<rect x="49.60" y="842.30" width="1.40" height="4" fill="#000" fill-opacity="0.5"/>
<rect x="51.50" y="842.30" width="15.80" height="4" fill="#000" fill-opacity="1"/>
<rect x="68" y="842.30" width="1" height="4" fill="#000"/>
<rect x="69" y="842.30" width="1" height="4" fill="#000"/>
<rect x="71" y="842.30" width="1" height="4" fill="#000"/>
<rect x="73" y="842.30" width="1" height="4" fill="#000"/>
<rect x="74.20" y="842.30" width="6.20" height="4" fill="#000" fill-opacity="0.5"/>
<rect x="81.90" y="842.30" width="1.60" height="4" fill="#000" fill-opacity="1"/>
<rect x="85" y="842.30" width="1" height="4" fill="#000"/>
<rect x="86" y="842.30" width="1" height="4" fill="#000"/>
<rect x="88" y="842.30" width="1" height="4" fill="#000"/>
<rect x="89" y="842.30" width="1" height="4" fill="#000"/>
<rect x="90" y="842.30" width="1" height="4" fill="#000"/>
<rect x="92.70" y="842.30" width="2.30" height="4" fill="#000" fill-opacity="1"/>
<rect x="95" y="842.30" width="1" height="4" fill="#000"/>
<rect x="97" y="842.30" width="1" height="4" fill="#000"/>
<rect x="98" y="842.30" width="1" height="4" fill="#000"/>
<rect x="100" y="842.30" width="1" height="4" fill="#000"/>
<rect x="101" y="842.30" width="1" height="4" fill="#000"/>
<rect x="103" y="842.30" width="1" height="4" fill="#000"/>
<rect x="105" y="842.30" width="1" height="4" fill="#000"/>
<rect x="106" y="842.30" width="1" height="4" fill="#000"/>
<rect x="108" y="842.30" width="1" height="4" fill="#000"/>
<rect x="111" y="842.30" width="1" height="4" fill="#000"/>
<rect x="113" y="842.30" width="1" height="4" fill="#000"/>
<rect x="116.50" y="842.30" width="1.60" height="4" fill="#000" fill-opacity="1"/>
<rect x="125" y="842.30" width="1" height="4" fill="#000"/>
<rect x="130" y="842.30" width="1" height="4" fill="#000"/>
<rect x="134" y="842.30" width="1" height="4" fill="#000"/>
<rect x="137" y="842.30" width="1" height="4" fill="#000"/>
<rect x="141" y="842.30" width="1" height="4" fill="#000"/>
<rect x="145" y="842.30" width="1" height="4" fill="#000"/>
<rect x="148" y="842.30" width="1" height="4" fill="#000"/>
<rect x="151" y="842.30" width="1" height="4" fill="#000"/>
<rect x="158" y="842.30" width="1" height="4" fill="#000"/>
<rect x="162" y="842.30" width="1" height="4" fill="#000"/>
<rect x="164" y="842.30" width="1" height="4" fill="#000"/>
<rect x="165" y="842.30" width="1" height="4" fill="#000"/>
<rect x="172" y="842.30" width="1" height="4" fill="#000"/>
<rect x="174" y="842.30" width="1" height="4" fill="#000"/>
<rect x="176" y="842.30" width="1" height="4" fill="#000"/>
<rect x="178" y="842.30" width="1" height="4" fill="#000"/>
<rect x="179" y="842.30" width="1" height="4" fill="#000"/>
<rect x="188" y="842.30" width="1" height="4" fill="#000"/>
<rect x="196" y="842.30" width="1" height="4" fill="#000"/>
<rect x="198" y="842.30" width="1" height="4" fill="#000"/>
<rect x="203" y="842.30" width="1" height="4" fill="#000"/>
<rect x="212" y="842.30" width="1" height="4" fill="#000"/>
<rect x="219" y="842.30" width="1" height="4" fill="#000"/>
<rect x="221" y="842.30" width="1" height="4" fill="#000"/>
<rect x="223" y="842.30" width="1" height="4" fill="#000"/>
<rect x="247" y="842.30" width="1" height="4" fill="#000"/>
<rect x="277" y="842.30" width="1" height="4" fill="#000"/>
<rect x="278" y="842.30" width="1" height="4" fill="#000"/>
<rect x="288" y="842.30" width="1" height="4" fill="#000"/>
<rect x="294" y="842.30" width="1" height="4" fill="#000"/>
<polyline points="30.4,767.2 33.8,757.3 38.0,748.1 44.2,740.0 50.0,731.9 55.1,726.8 61.5,726.6 68.5,727.3 76.5,728.0 80.5,729.4 294.5,729.4" fill="none" stroke="#aa3840" stroke-width="1" stroke-linejoin="round"/>
<polyline points="30.4,798.9 35.0,798.4 38.5,796.1 41.9,796.5 43.5,797.7 47.2,790.3 51.2,787.3 54.6,776.9 56.9,772.3 59.2,764.2 62.7,765.4 67.3,765.4 70.8,769.5 76.5,775.8 81.2,777.4 84.2,783.8 110.0,783.8 121.5,782.7 126.2,781.1 133.1,780.4 136.5,779.2 142.3,779.7 145.8,780.4 149.2,779.2 158.5,778.8 239.6,778.8 240.5,779.8 294.5,779.8" fill="none" stroke="#383892" stroke-width="1" stroke-linejoin="round"/>
<text x="71.00" y="901.80" font-size="23.5" font-weight="bold" fill="#111" stroke="#111" stroke-width="0.25">Dis<tspan dx="-1.0">t</tspan><tspan dx="0.5">ance to roads</tspan></text>
<path d="M103.85,891.80 C104.25,888.00 105.05,886.30 107.05,886.30 S109.25,886.80 109.65,888.60" fill="none" stroke="#111" stroke-width="2.0" stroke-linecap="round"/>
<text x="122.30" y="929.60" font-size="23.5" font-weight="bold" fill="#111" stroke="#111" stroke-width="0.25">(degree)</text>
<rect x="355.8" y="709.8" width="285.59999999999997" height="136.5" fill="none" stroke="#333" stroke-width="1"/>
<line x1="355.80" y1="840.50" x2="350.50" y2="840.50" stroke="#333" stroke-width="1"/>
<text x="0" y="0" transform="translate(344.10,840.80) rotate(-90)" font-size="8.6" text-anchor="middle" fill="#222">0.0</text>
<line x1="355.80" y1="815.50" x2="350.50" y2="815.50" stroke="#333" stroke-width="1"/>
<text x="0" y="0" transform="translate(344.10,815.56) rotate(-90)" font-size="8.6" text-anchor="middle" fill="#222">0.2</text>
<line x1="355.80" y1="790.50" x2="350.50" y2="790.50" stroke="#333" stroke-width="1"/>
<text x="0" y="0" transform="translate(344.10,790.32) rotate(-90)" font-size="8.6" text-anchor="middle" fill="#222">0.4</text>
<line x1="355.80" y1="764.50" x2="350.50" y2="764.50" stroke="#333" stroke-width="1"/>
<text x="0" y="0" transform="translate(344.10,765.08) rotate(-90)" font-size="8.6" text-anchor="middle" fill="#222">0.6</text>
<line x1="355.80" y1="739.50" x2="350.50" y2="739.50" stroke="#333" stroke-width="1"/>
<text x="0" y="0" transform="translate(344.10,739.84) rotate(-90)" font-size="8.6" text-anchor="middle" fill="#222">0.8</text>
<line x1="355.80" y1="714.50" x2="350.50" y2="714.50" stroke="#333" stroke-width="1"/>
<text x="0" y="0" transform="translate(344.10,714.60) rotate(-90)" font-size="8.6" text-anchor="middle" fill="#222">1.0</text>
<line x1="366.50" y1="846.30" x2="366.50" y2="851.60" stroke="#333" stroke-width="1"/>
<text x="365.90" y="864.90" font-size="8.6" text-anchor="middle" font-weight="normal" fill="#222">0.0</text>
<line x1="418.50" y1="846.30" x2="418.50" y2="851.60" stroke="#333" stroke-width="1"/>
<text x="417.90" y="864.90" font-size="8.6" text-anchor="middle" font-weight="normal" fill="#222">0.1</text>
<line x1="470.50" y1="846.30" x2="470.50" y2="851.60" stroke="#333" stroke-width="1"/>
<text x="469.90" y="864.90" font-size="8.6" text-anchor="middle" font-weight="normal" fill="#222">0.2</text>
<line x1="522.50" y1="846.30" x2="522.50" y2="851.60" stroke="#333" stroke-width="1"/>
<text x="521.90" y="864.90" font-size="8.6" text-anchor="middle" font-weight="normal" fill="#222">0.3</text>
<line x1="574.50" y1="846.30" x2="574.50" y2="851.60" stroke="#333" stroke-width="1"/>
<text x="573.90" y="864.90" font-size="8.6" text-anchor="middle" font-weight="normal" fill="#222">0.4</text>
<line x1="626.50" y1="846.30" x2="626.50" y2="851.60" stroke="#333" stroke-width="1"/>
<text x="625.90" y="864.90" font-size="8.6" text-anchor="middle" font-weight="normal" fill="#222">0.5</text>
<rect x="366.70" y="842.30" width="26.10" height="4" fill="#000" fill-opacity="1"/>
<rect x="392.80" y="842.30" width="1.00" height="4" fill="#000" fill-opacity="0.5"/>
<rect x="393.80" y="842.30" width="20.40" height="4" fill="#000" fill-opacity="1"/>
<rect x="414.20" y="842.30" width="1.30" height="4" fill="#000" fill-opacity="0.5"/>
<rect x="416.00" y="842.30" width="4.20" height="4" fill="#000" fill-opacity="1"/>
<rect x="421.50" y="842.30" width="3.30" height="4" fill="#000" fill-opacity="1"/>
<rect x="425.20" y="842.30" width="2.80" height="4" fill="#000" fill-opacity="0.5"/>
<rect x="428.50" y="842.30" width="5.00" height="4" fill="#000" fill-opacity="1"/>
<rect x="434.50" y="842.30" width="2.70" height="4" fill="#000" fill-opacity="1"/>
<rect x="439.30" y="842.30" width="1.20" height="4" fill="#000" fill-opacity="1"/>
<rect x="441.40" y="842.30" width="1.80" height="4" fill="#000" fill-opacity="1"/>
<rect x="444.20" y="842.30" width="3.70" height="4" fill="#000" fill-opacity="0.5"/>
<rect x="449.70" y="842.30" width="3.70" height="4" fill="#000" fill-opacity="1"/>
<rect x="455.20" y="842.30" width="1.00" height="4" fill="#000" fill-opacity="1"/>
<rect x="456.20" y="842.30" width="2.80" height="4" fill="#000" fill-opacity="0.5"/>
<rect x="459.00" y="842.30" width="3.60" height="4" fill="#000" fill-opacity="1"/>
<rect x="463.00" y="842.30" width="2.80" height="4" fill="#000" fill-opacity="0.5"/>
<rect x="466.30" y="842.30" width="1.50" height="4" fill="#000" fill-opacity="1"/>
<rect x="468.70" y="842.30" width="3.20" height="4" fill="#000" fill-opacity="1"/>
<rect x="472.40" y="842.30" width="1.80" height="4" fill="#000" fill-opacity="0.5"/>
<rect x="475.20" y="842.30" width="2.70" height="4" fill="#000" fill-opacity="1"/>
<rect x="477.90" y="842.30" width="2.30" height="4" fill="#000" fill-opacity="0.5"/>
<rect x="481.20" y="842.30" width="2.30" height="4" fill="#000" fill-opacity="1"/>
<rect x="483.50" y="842.30" width="1.40" height="4" fill="#000" fill-opacity="0.5"/>
<rect x="486.20" y="842.30" width="3.70" height="4" fill="#000" fill-opacity="1"/>
<rect x="492.70" y="842.30" width="1.40" height="4" fill="#000" fill-opacity="0.5"/>
<rect x="494.50" y="842.30" width="2.80" height="4" fill="#000" fill-opacity="1"/>
<rect x="498.20" y="842.30" width="3.70" height="4" fill="#000" fill-opacity="1"/>
<rect x="507.00" y="842.30" width="1.90" height="4" fill="#000" fill-opacity="1"/>
<rect x="509.80" y="842.30" width="2.80" height="4" fill="#000" fill-opacity="1"/>
<rect x="516.20" y="842.30" width="1.90" height="4" fill="#000" fill-opacity="0.5"/>
<rect x="526" y="842.30" width="1" height="4" fill="#000"/>
<rect x="529" y="842.30" width="1" height="4" fill="#000"/>
<rect x="530" y="842.30" width="1" height="4" fill="#000"/>
<rect x="532" y="842.30" width="1" height="4" fill="#000"/>
<rect x="538" y="842.30" width="1" height="4" fill="#000"/>
<rect x="546" y="842.30" width="1" height="4" fill="#000"/>
<rect x="553" y="842.30" width="1" height="4" fill="#000"/>
<rect x="560" y="842.30" width="1" height="4" fill="#000"/>
<rect x="567" y="842.30" width="1" height="4" fill="#000"/>
<rect x="576" y="842.30" width="1" height="4" fill="#000"/>
<rect x="595" y="842.30" width="1" height="4" fill="#000"/>
<rect x="600" y="842.30" width="1" height="4" fill="#000"/>
<rect x="620" y="842.30" width="1" height="4" fill="#000"/>
<rect x="630" y="842.30" width="1" height="4" fill="#000"/>
<polyline points="366.4,738.2 369.2,738.2 371.7,729.6 375.6,731.2 380.2,734.9 384.8,738.2 387.2,737.2 390.2,738.4 397.5,738.8 401.0,740.5 405.6,745.8 409.1,746.5 412.5,750.4 418.3,750.4 422.9,749.2 428.0,746.9 432.2,746.5 435.6,745.3 630.7,745.3" fill="none" stroke="#383892" stroke-width="1" stroke-linejoin="round"/>
<polyline points="366.4,778.5 369.4,776.9 371.5,762.6 374.5,765.8 379.1,773.5 382.5,778.1 385.5,779.2 387.8,778.5 392.9,779.9 398.7,783.8 403.3,789.6 406.8,797.2 413.7,800.5 419.5,800.0 425.2,798.8 433.3,796.5 435.6,792.6 443.7,791.9 448.3,790.8 452.9,790.8 457.5,783.8 462.2,783.4 466.8,782.2 471.4,781.5 630.7,781.5" fill="none" stroke="#aa3840" stroke-width="1" stroke-linejoin="round"/>
<text x="400.80" y="904.10" font-size="23.5" font-weight="bold" fill="#111" stroke="#111" stroke-width="0.25">Dis<tspan dx="-1.0">t</tspan><tspan dx="0.5">ance to villages</tspan></text>
<path d="M433.65,894.10 C434.05,890.30 434.85,888.60 436.85,888.60 S439.05,889.10 439.45,890.90" fill="none" stroke="#111" stroke-width="2.0" stroke-linecap="round"/>
<text x="463.30" y="932.30" font-size="23.5" font-weight="bold" fill="#111" stroke="#111" stroke-width="0.25">(degree)</text>
</svg>
</body></html>
